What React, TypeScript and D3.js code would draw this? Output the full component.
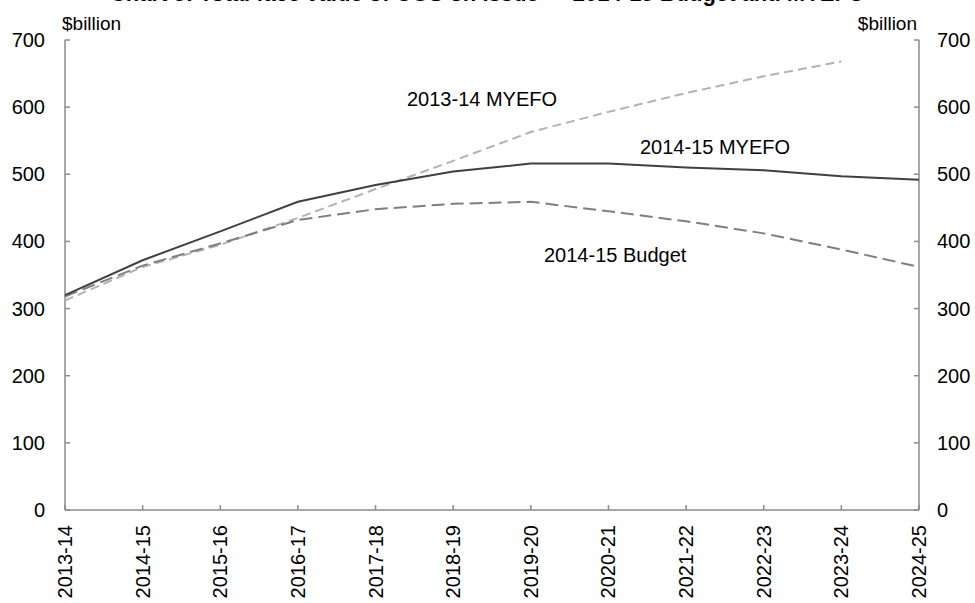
import React from "react";
import * as d3 from "d3";

const years = ["2013-14","2014-15","2015-16","2016-17","2017-18","2018-19","2019-20","2020-21","2021-22","2022-23","2023-24","2024-25"];
const myefo1415 = [320, 372, 415, 459, 484, 504, 516, 516, 510, 506, 497, 492];
const budget1415 = [318, 364, 397, 432, 448, 456, 459, 445, 430, 412, 388, 362];
const myefo1314 = [312, 362, 395, 435, 478, 520, 563, 593, 621, 646, 668];
const yTicks = [0, 100, 200, 300, 400, 500, 600, 700];
const titleText = "Chart 5: Total face value of CGS on issue — 2014-15 Budget and MYEFO";

const W = 975, H = 603;
const left = 65, right = 919, top = 40, bottom = 510;

export default function App() {
  const x = d3.scalePoint<string>().domain(years).range([left, right]);
  const y = d3.scaleLinear().domain([0, 700]).range([bottom, top]);
  const line = d3.line<number>().x((_, i) => x(years[i]) as number).y((d) => y(d));
  const font = "'Liberation Sans', Arial, sans-serif";
  const axisColor = "#8a8a8a";
  return (
    <div style={{ position: "absolute", left: 0, top: 0 }}>
      <svg width={W} height={H} style={{ display: "block", background: "#fff" }} fontFamily={font}>
        <text x={W / 2} y={1} textAnchor="middle" fontSize={22} fontWeight="bold" fill="#000">{titleText}</text>
        <text x={62} y={30} fontSize={19} fill="#000">$billion</text>
        <text x={917} y={30} fontSize={19} textAnchor="end" fill="#000">$billion</text>
        {/* axes */}
        <line x1={left} x2={left} y1={top} y2={bottom} stroke={axisColor} strokeWidth={1.5} />
        <line x1={right} x2={right} y1={top} y2={bottom} stroke={axisColor} strokeWidth={1.5} />
        <line x1={left} x2={right} y1={bottom} y2={bottom} stroke={axisColor} strokeWidth={1.5} />
        {yTicks.map((t) => (
          <g key={t}>
            <line x1={left} x2={left + 5} y1={y(t)} y2={y(t)} stroke={axisColor} strokeWidth={1.5} />
            <line x1={right - 5} x2={right} y1={y(t)} y2={y(t)} stroke={axisColor} strokeWidth={1.5} />
            <text x={45} y={y(t)} dy="0.35em" textAnchor="end" fontSize={20} fill="#000">{t}</text>
            <text x={937} y={y(t)} dy="0.35em" textAnchor="start" fontSize={20} fill="#000">{t}</text>
          </g>
        ))}
        {years.map((yr) => (
          <g key={yr}>
            <line x1={x(yr)} x2={x(yr)} y1={bottom} y2={bottom - 5} stroke={axisColor} strokeWidth={1.5} />
            <text transform={`translate(${x(yr)},${bottom + 15}) rotate(-90)`} dy="0.35em" textAnchor="end" fontSize={20} fill="#000">{yr}</text>
          </g>
        ))}
        {/* lines */}
        <path d={line(myefo1314) || ""} fill="none" stroke="#b3b3b3" strokeWidth={2} strokeDasharray="9,5" />
        <path d={line(budget1415) || ""} fill="none" stroke="#7f7f7f" strokeWidth={2} strokeDasharray="13,6" />
        <path d={line(myefo1415) || ""} fill="none" stroke="#404040" strokeWidth={2} />
        {/* labels */}
        <text x={407} y={106} fontSize={20} fill="#000">2013-14 MYEFO</text>
        <text x={640} y={154} fontSize={20} fill="#000">2014-15 MYEFO</text>
        <text x={544} y={262} fontSize={20} fill="#000">2014-15 Budget</text>
      </svg>
    </div>
  );
}
